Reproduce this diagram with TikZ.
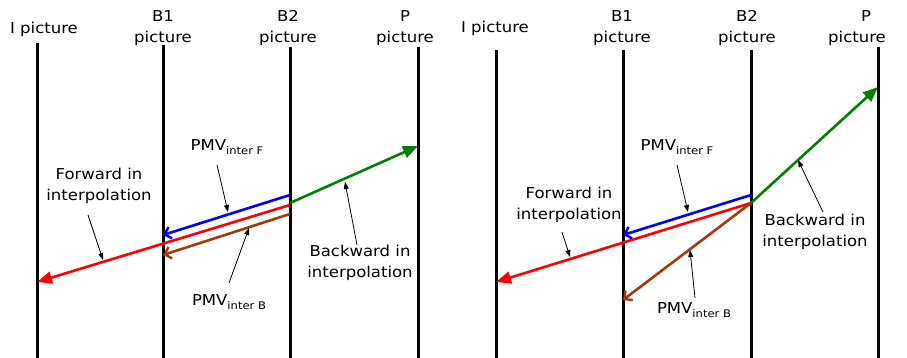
\documentclass[tikz,border=0pt]{standalone}
\usepackage{fontspec}
\setmainfont{DejaVu Sans}[FakeStretch=1.1]
\usetikzlibrary{arrows.meta}
\newcommand\pmvlabel[1]{PMV\raisebox{-0.55ex}{\fontsize{10.5}{12}\selectfont #1}}
\definecolor{mvgreen}{RGB}{0,128,0}
\definecolor{mvbrown}{RGB}{160,60,10}
\tikzset{
  vline/.style={line width=3pt},
  lbl/.style={inner sep=0pt, align=center, font=\fontsize{15}{21}\selectfont},
  mv/.style={line width=2.6pt},
  fwd/.style={mv, red, -{Triangle[length=15pt,width=12pt]}},
  bwd/.style={mv, mvgreen, -{Triangle[length=15pt,width=12pt]}},
  pmvf/.style={mv, blue, -{Straight Barb[length=6pt,width=12pt,line width=2.4pt]}},
  pmvb/.style={mv, mvbrown, -{Straight Barb[length=6pt,width=12pt,line width=2.4pt]}},
  note/.style={line width=0.8pt, -{Triangle[length=7pt,width=5pt]}}
}
\begin{document}
\begin{tikzpicture}[x=1pt,y=-1pt]
\useasboundingbox (0,0) rectangle (907,358);
% ---------- left panel ----------
\coordinate (Lit) at (37,43);  \coordinate (Lib) at (37,358);
\coordinate (Lb1t) at (163,45); \coordinate (Lb1b) at (163,358);
\coordinate (Lb2t) at (290,47); \coordinate (Lb2b) at (290,358);
\coordinate (Lpt) at (418,47);  \coordinate (Lpb) at (418,358);
\draw[vline] (Lit) -- (Lib);
\draw[vline] (Lb1t) -- (Lb1b);
\draw[vline] (Lb2t) -- (Lb2b);
\draw[vline] (Lpt) -- (Lpb);
\node[lbl] (LIlab) at (44,29) {I picture};
\node[lbl] (LB1lab) at (163,28) {B1\\picture};
\node[lbl] (LB2lab) at (288,28) {B2\\picture};
\node[lbl] (LPlab) at (405,28) {P\\picture};

\coordinate (Lg0) at (290,203); \coordinate (Lg1) at (418,146);
\coordinate (Lbl0) at (290,195); \coordinate (Lbl1) at (163,235);
\coordinate (Lr0) at (290,205); \coordinate (Lr1) at (37,282);
\coordinate (Lbr0) at (290,214); \coordinate (Lbr1) at (163,255);
\draw[bwd] (Lg0) -- (Lg1);
\draw[pmvf] (Lbl0) -- (Lbl1);
\draw[fwd] (Lr0) -- (Lr1);
\draw[pmvb] (Lbr0) -- (Lbr1);

\node[lbl] (LFlab) at (227,147) {\pmvlabel{inter F}};
\coordinate (LFa) at (217,165); \coordinate (LFb) at (228,212);
\draw[note] (LFa) -- (LFb);
\node[lbl] (LFw) at (99,186) {Forward in\\interpolation};
\coordinate (LFwa) at (88,215); \coordinate (LFwb) at (103,260);
\draw[note] (LFwa) -- (LFwb);
\node[lbl] (LBw) at (360,263) {Backward in\\interpolation};
\coordinate (LBwa) at (357,245); \coordinate (LBwb) at (345,182);
\draw[note] (LBwa) -- (LBwb);
\node[lbl] (LBlab) at (229,302) {\pmvlabel{inter B}};
\coordinate (LBa) at (229,283); \coordinate (LBb) at (249,228);
\draw[note] (LBa) -- (LBb);

% ---------- right panel ----------
\coordinate (Rit) at (496,50);  \coordinate (Rib) at (496,358);
\coordinate (Rb1t) at (623,50); \coordinate (Rb1b) at (623,358);
\coordinate (Rb2t) at (751,50); \coordinate (Rb2b) at (751,358);
\coordinate (Rpt) at (878,47);  \coordinate (Rpb) at (878,358);
\draw[vline] (Rit) -- (Rib);
\draw[vline] (Rb1t) -- (Rb1b);
\draw[vline] (Rb2t) -- (Rb2b);
\draw[vline] (Rpt) -- (Rpb);
\node[lbl] (RIlab) at (495,28) {I picture};
\node[lbl] (RB1lab) at (622,28) {B1\\picture};
\node[lbl] (RB2lab) at (747,28) {B2\\picture};
\node[lbl] (RPlab) at (857,28) {\hspace*{18pt}P\\picture};

\coordinate (R0) at (751,203);
\coordinate (Rg1) at (878,87);
\coordinate (Rbl0) at (751,195); \coordinate (Rbl1) at (623,235);
\coordinate (Rr1) at (496,282);
\coordinate (Rbr1) at (623,300);
\draw[bwd] (R0) -- (Rg1);
\draw[pmvf] (Rbl0) -- (Rbl1);
\draw[fwd] (R0) -- (Rr1);
\draw[pmvb] (R0) -- (Rbr1);

\node[lbl] (RFlab) at (677,147) {\pmvlabel{inter F}};
\coordinate (RFa) at (677,165); \coordinate (RFb) at (688,212);
\draw[note] (RFa) -- (RFb);
\node[lbl] (RFw) at (569,205) {Forward in\\interpolation};
\coordinate (RFwa) at (562,232); \coordinate (RFwb) at (570,257);
\draw[note] (RFwa) -- (RFwb);
\node[lbl] (RBw) at (815,232) {Backward in\\interpolation};
\coordinate (RBwa) at (823,212); \coordinate (RBwb) at (798,160);
\draw[note] (RBwa) -- (RBwb);
\node[lbl] (RBlab) at (694,310) {\pmvlabel{inter B}};
\coordinate (RBa) at (695,298); \coordinate (RBb) at (690,250);
\draw[note] (RBa) -- (RBb);
\end{tikzpicture}
\end{document}
